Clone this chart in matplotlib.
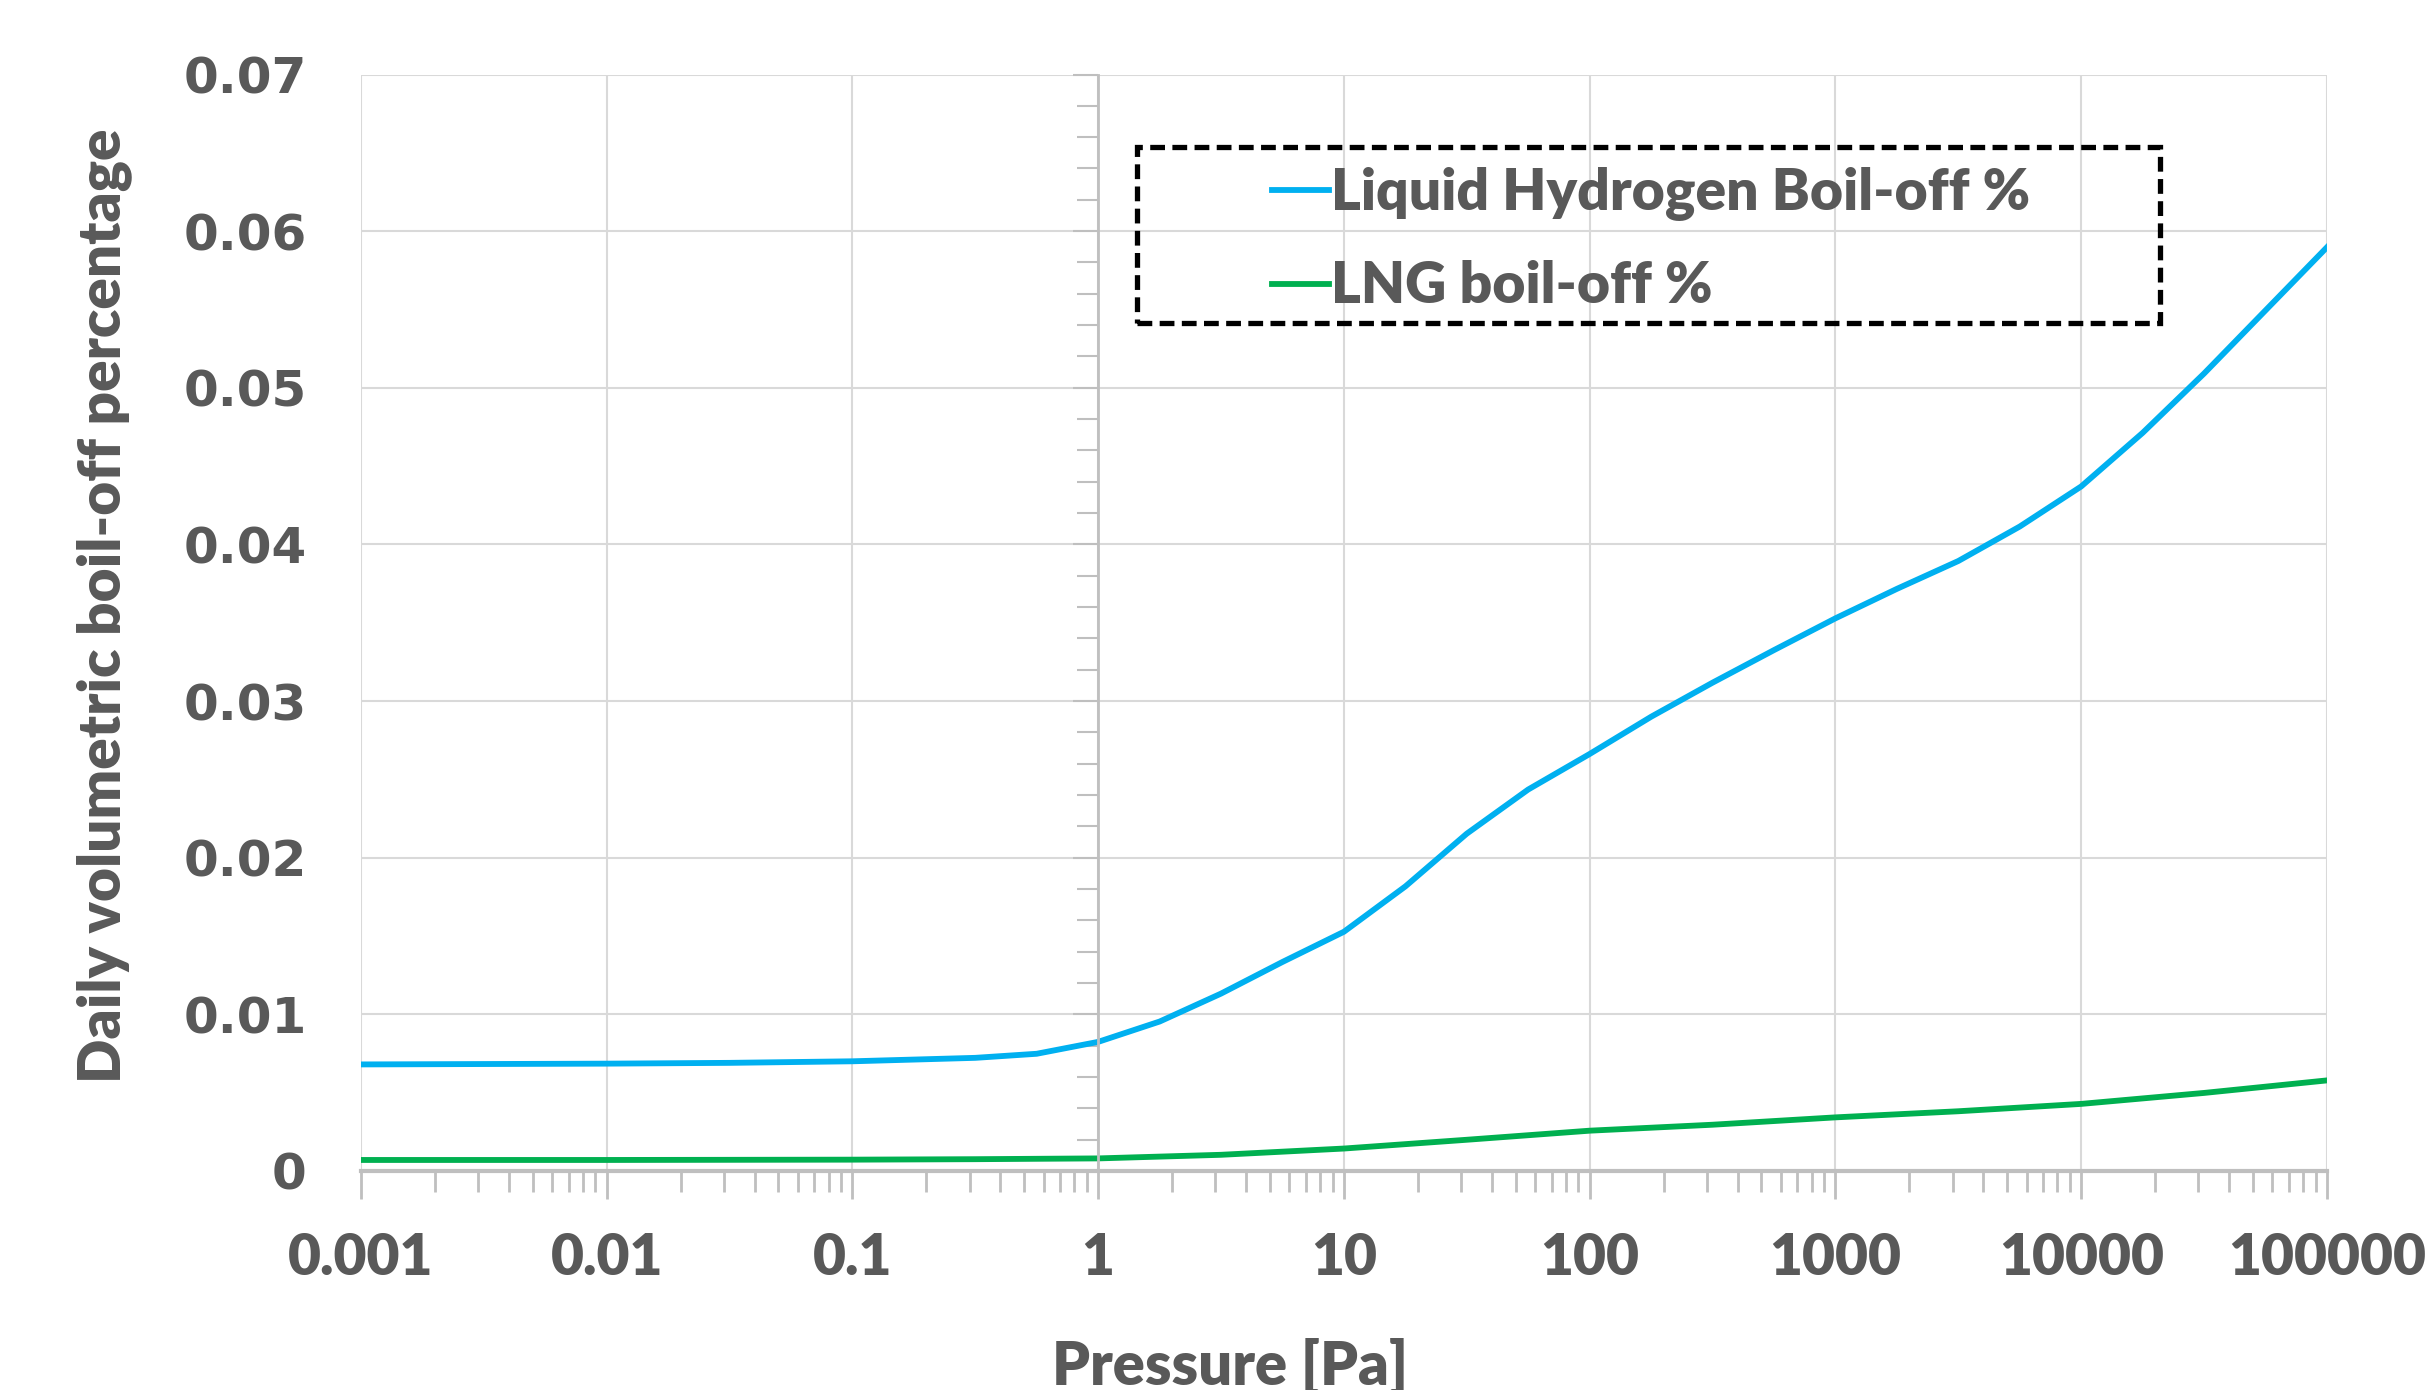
import numpy as np
import matplotlib
matplotlib.use("Agg")
import matplotlib.pyplot as plt
from matplotlib.patches import Rectangle
from matplotlib.ticker import MultipleLocator, LogLocator, NullFormatter

# values
lh2_pressure = [0.001, 0.01, 0.0316, 0.1, 0.316, 0.562, 1, 1.78, 3.16, 5.62, 10, 17.8, 31.6,
                56.2, 100, 178, 316, 562, 1000, 1778, 3162, 5623, 10000, 17783, 31623,
                56234, 100000]
lh2_boiloff = [0.0068, 0.00685, 0.0069, 0.0070, 0.00722, 0.00748, 0.00824, 0.00954, 0.01132,
               0.01334, 0.01527, 0.01817, 0.02153, 0.02435, 0.02662, 0.0290, 0.03117,
               0.03325, 0.03528, 0.03716, 0.03894, 0.04114, 0.0437, 0.04712, 0.05091,
               0.05494, 0.05897]
lng_pressure = [0.001, 0.01, 0.1, 0.316, 1, 3.16, 10, 31.6, 100, 316, 1000, 3162, 10000,
                31623, 100000]
lng_boiloff = [0.0007, 0.0007, 0.00072, 0.00075, 0.0008, 0.00103, 0.00143, 0.00199, 0.00257,
               0.00295, 0.00342, 0.00381, 0.00428, 0.00498, 0.00578]
y_ticks = [0, 0.01, 0.02, 0.03, 0.04, 0.05, 0.06, 0.07]
y_labels = ["0", "0.01", "0.02", "0.03", "0.04", "0.05", "0.06", "0.07"]
x_ticks = [0.001, 0.01, 0.1, 1, 10, 100, 1000, 10000, 100000]
x_labels = ["0.001", "0.01", "0.1", "1", "10", "100", "1000", "10000", "100000"]

txt = "#595959"
grid = "#D9D9D9"
axc = "#BFBFBF"
wt = "heavy"

fig = plt.figure(figsize=(24.32, 13.90), dpi=100)
ax = fig.add_axes([0.1484, 0.1576, 0.8084, 0.7888])

ax.plot(lh2_pressure, lh2_boiloff, color="#00B0F0", lw=4.2, label="Liquid Hydrogen Boil-off %")
ax.plot(lng_pressure, lng_boiloff, color="#00B050", lw=4.2, label="LNG boil-off %")

ax.set_xscale("log")
ax.set_xlim(1e-3, 1e5)
ax.set_ylim(0, 0.07)

ax.set_xticks(x_ticks, x_labels)
ax.xaxis.set_minor_locator(LogLocator(base=10, subs=np.arange(2, 10)))
ax.xaxis.set_minor_formatter(NullFormatter())
ax.tick_params(axis="x", which="major", length=20, width=2, color=axc, pad=24,
               labelsize=41, labelcolor=txt)
ax.tick_params(axis="x", which="minor", length=15, width=2, color=axc)
for lab in ax.get_xticklabels():
    lab.set_fontfamily("Lato")
    lab.set_fontweight(wt)

# vertical axis line crosses at x = 1
ax.spines["left"].set_position(("data", 1))
ax.spines["left"].set_color(axc)
ax.spines["left"].set_linewidth(2)
ax.set_yticks(y_ticks)
ax.yaxis.set_minor_locator(MultipleLocator(0.002))
ax.tick_params(axis="y", which="both", labelleft=False, color=axc, width=1.5)
ax.tick_params(axis="y", which="major", length=18)
ax.tick_params(axis="y", which="minor", length=15)

for s in ["top", "right"]:
    ax.spines[s].set_visible(False)
ax.spines["bottom"].set_color(axc)
ax.spines["bottom"].set_linewidth(3)

ax.grid(True, which="major", color=grid, lw=1.5)
ax.set_axisbelow(True)

# y tick labels sit at the left edge
sec = ax.secondary_yaxis(0)
sec.set_yticks(y_ticks, y_labels)
sec.tick_params(length=0, pad=39, labelsize=36, labelcolor=txt)
sec.spines["left"].set_visible(False)
for lab in sec.get_yticklabels():
    lab.set_fontweight("bold")
    lab.set_fontfamily("DejaVu Sans")

ax.set_ylabel("Daily volumetric boil-off percentage", fontsize=42, fontweight=wt,
              color=txt, family="Lato")
ax.yaxis.set_label_coords(-0.1165, 0.5155)
ax.set_xlabel("Pressure [Pa]", fontsize=43, fontweight=wt, color=txt, family="Lato")
ax.xaxis.set_label_coords(0.442, -0.152)

leg = ax.legend(loc="upper left", bbox_to_anchor=(0.4634, 0.916), frameon=False,
                handlelength=1.0, handletextpad=0.04, borderpad=0, labelspacing=0.7,
                borderaxespad=0, prop={"family": "Lato", "weight": wt, "size": 41})
for t in leg.get_texts():
    t.set_color(txt)
for h in leg.get_lines():
    h.set_linewidth(4.2)

# dashed legend box
ax.add_patch(Rectangle((0.3947, 0.773), 0.5206, 0.161, transform=ax.transAxes,
                       fill=False, edgecolor="black", lw=3.8,
                       linestyle=(0, (2.8, 1.4)), zorder=5))

fig.savefig("out.png", dpi=100)
